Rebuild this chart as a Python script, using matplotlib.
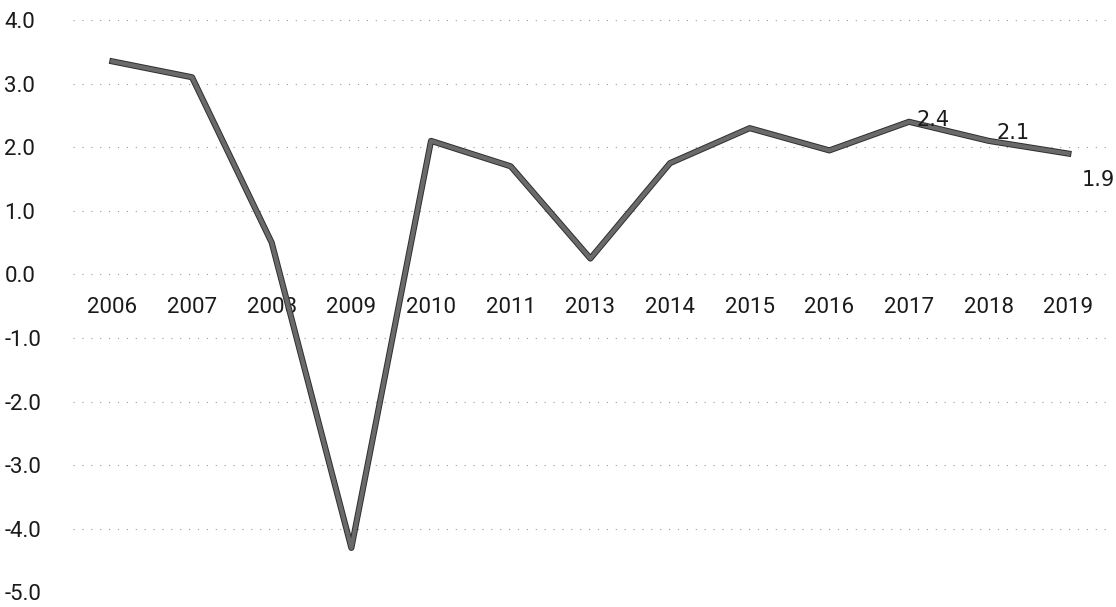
import matplotlib.pyplot as plt
import matplotlib.patheffects as pe
from matplotlib.ticker import FormatStrFormatter

# data
years = ['2006', '2007', '2008', '2009', '2010', '2011', '2013',
         '2014', '2015', '2016', '2017', '2018', '2019']
growth = [3.35, 3.1, 0.5, -4.3, 2.1, 1.7, 0.25, 1.75, 2.3, 1.95, 2.4, 2.1, 1.9]
labelled = {10: '2.4', 11: '2.1', 12: '1.9'}
label_offsets = {10: (24, 2), 11: (24, 8), 12: (30, -26)}

plt.rcParams['axes.unicode_minus'] = False
plt.rcParams['font.family'] = ['Roboto', 'DejaVu Sans']

fig = plt.figure(figsize=(11.16, 6.07), dpi=100)
ax = fig.add_axes([0.065, 0.024, 0.928, 0.943])

x = list(range(len(years)))
ax.plot(x, growth, color='#6a6a6a', lw=3.0, solid_joinstyle='round',
        path_effects=[pe.Stroke(linewidth=4.4, foreground='#2e2e2e'), pe.Normal()],
        zorder=3)

for i, txt in labelled.items():
    dx, dy = label_offsets[i]
    ax.annotate(txt, (x[i], growth[i]), xytext=(dx, dy), textcoords='offset pixels',
                ha='center', va='center', fontsize=15, color='#1a1a1a',
                family=['Liberation Sans Narrow', 'DejaVu Sans'], zorder=4)

ax.set_xlim(-0.5, len(years) - 0.5)
ax.set_ylim(-5, 4)
ax.set_yticks([4, 3, 2, 1, 0, -1, -2, -3, -4, -5])
ax.yaxis.set_major_formatter(FormatStrFormatter('%.1f'))
ax.yaxis.grid(True, color='#9a9a9a', lw=0.8, linestyle=(0, (1, 7)))
ax.set_axisbelow(True)

ax.set_xticks(x)
ax.set_xticklabels(years)
ax.spines['bottom'].set_position(('data', 0))
for s in ['top', 'right', 'left', 'bottom']:
    ax.spines[s].set_visible(False)

ax.tick_params(axis='x', length=0, pad=16, labelsize=16, colors='#1a1a1a')
ax.tick_params(axis='y', length=0, pad=49, labelsize=16, colors='#1a1a1a')
for lab in ax.get_yticklabels():
    lab.set_horizontalalignment('left')

fig.savefig('out.png', dpi=100)
